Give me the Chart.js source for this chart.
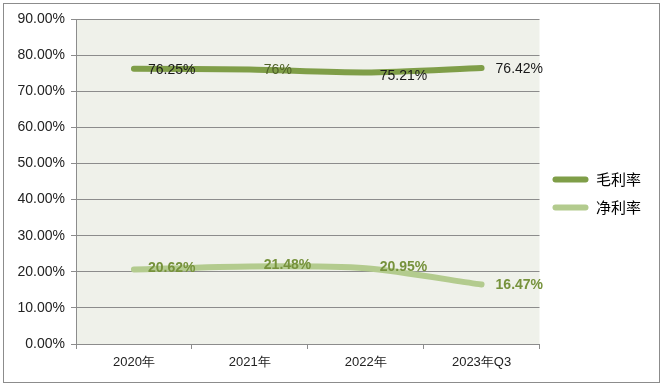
<!DOCTYPE html>
<html>
<head>
<meta charset="utf-8">
<script src="https://cdn.jsdelivr.net/npm/chart.js@4"></script>
<style>
  body { margin: 0; background: #fff; }
  #wrap { position: absolute; left: 0; top: 0; width: 663px; height: 387px; }
</style>
</head>
<body>
<div id="wrap"><canvas id="c" width="663" height="387"></canvas></div>
<script>
// datos
const categorias = ['2020年', '2021年', '2022年', '2023年Q3'];
const maoli = [76.25, 76, 75.21, 76.42];
const jingli = [20.62, 21.48, 20.95, 16.47];
const etiquetasMaoli = ['76.25%', '76%', '75.21%', '76.42%'];
const etiquetasJingli = ['20.62%', '21.48%', '20.95%', '16.47%'];
const colorEtiquetaMaoli = ['#1a1a1a', '#4F6228', '#1a1a1a', '#1a1a1a'];

// borde exterior y etiquetas de datos
const extras = {
  id: 'extras',
  afterLayout(chart) {
    // subir un poco la leyenda
    chart.legend.top -= 8;
    chart.legend.bottom -= 8;
  },
  beforeDraw(chart) {
    const ctx = chart.ctx;
    ctx.save();
    ctx.strokeStyle = '#8c8c8c';
    ctx.lineWidth = 1;
    ctx.strokeRect(3.5, 3.5, 656, 379);
    ctx.restore();
  },
  afterDatasetsDraw(chart) {
    const ctx = chart.ctx;
    ctx.save();
    ctx.font = '14px "Liberation Sans", Arial, sans-serif';
    ctx.textAlign = 'left';
    ctx.textBaseline = 'middle';
    const m0 = chart.getDatasetMeta(0).data;
    m0.forEach((p, i) => {
      ctx.fillStyle = colorEtiquetaMaoli[i];
      const dy = i === 2 ? 4 : 1;
      ctx.fillText(etiquetasMaoli[i], p.x + 14, p.y + dy);
    });
    ctx.font = 'bold 14px "Liberation Sans", Arial, sans-serif';
    ctx.fillStyle = '#76923C';
    const m1 = chart.getDatasetMeta(1).data;
    m1.forEach((p, i) => {
      const dy = i === 3 ? 1 : -1;
      ctx.fillText(etiquetasJingli[i], p.x + 14, p.y + dy);
    });
    ctx.restore();
  }
};

const fondo = {
  id: 'fondo',
  beforeDraw(chart) {
    const a = chart.chartArea;
    const ctx = chart.ctx;
    ctx.save();
    ctx.fillStyle = '#EFF1EA';
    ctx.fillRect(a.left, a.top, a.right - a.left, a.bottom - a.top);
    ctx.restore();
  }
};

const chart = new Chart(document.getElementById('c').getContext('2d'), {
  type: 'line',
  data: {
    labels: categorias,
    datasets: [{
      label: '毛利率',
      data: maoli,
      borderColor: '#7F9E48',
      backgroundColor: '#7F9E48',
      borderWidth: 6, tension: 0.25, pointRadius: 0, borderCapStyle: 'round'
    }, {
      label: '净利率',
      data: jingli,
      borderColor: '#B3CB8E',
      backgroundColor: '#B3CB8E',
      borderWidth: 6, tension: 0.25, pointRadius: 0, borderCapStyle: 'round'
    }]
  },
  options: {
    responsive: false,
    animation: false,
    layout: { padding: { left: 10, top: 19, right: 12, bottom: 3 } },
    plugins: {
      tooltip: { enabled: false },
      legend: {
        position: 'right',
        labels: {
          boxWidth: 36,
          boxHeight: 6,
          useBorderRadius: true,
          borderRadius: 3,
          padding: 13,
          color: '#222',
          font: { family: '"Noto Sans CJK SC", sans-serif', size: 15 },
          generateLabels(chart) {
            return chart.data.datasets.map((d, i) => ({
              text: d.label,
              strokeStyle: d.borderColor,
              fillStyle: d.borderColor,
              lineWidth: 0,
              borderRadius: 3,
              datasetIndex: i
            }));
          }
        }
      }
    },
    scales: {
      x: {
        offset: true,
        grid: { offset: true, drawOnChartArea: false, drawTicks: true, tickLength: 5, color: '#8c8c8c' },
        border: { color: '#8c8c8c' },
        ticks: { color: '#222', font: { family: '"Liberation Sans", sans-serif', size: 13 }, padding: 6 },
        afterFit(s) { s.height = 40; }
      },
      y: {
        min: 0, max: 90,
        ticks: {
          stepSize: 10, color: '#222', padding: 6,
          font: { family: '"Liberation Sans", sans-serif', size: 14 },
          callback: v => v.toFixed(2) + '%'
        },
        grid: { color: '#8c8c8c', tickLength: 5 },
        border: { color: '#8c8c8c' },
        afterFit(s) { s.width = 66; }
      }
    }
  },
  plugins: [fondo, extras]
});
</script>
</body>
</html>
